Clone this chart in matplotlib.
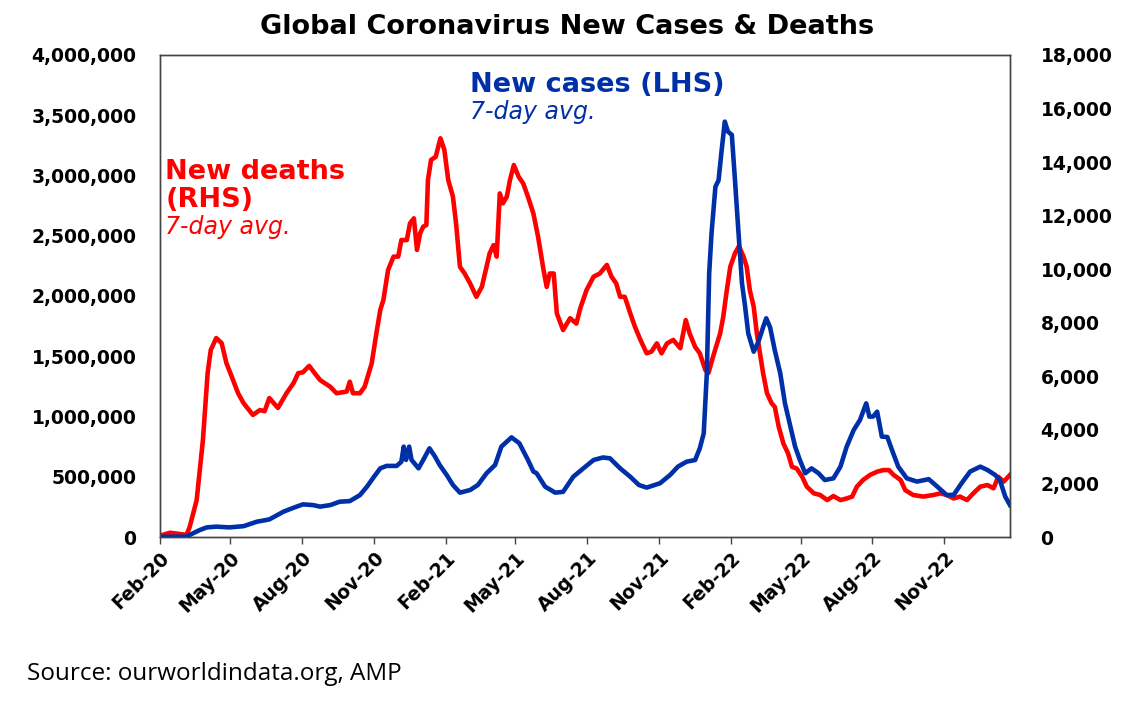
import matplotlib
matplotlib.use("Agg")
import matplotlib.pyplot as plt
import matplotlib.ticker as mticker
import pandas as pd

# 7-day avg new deaths, world (RHS)
death_dates = [
    "2020-02-01", "2020-02-14", "2020-03-06", "2020-03-10", "2020-03-19", "2020-03-27",
    "2020-04-02", "2020-04-06", "2020-04-13", "2020-04-20", "2020-04-26", "2020-05-03",
    "2020-05-11", "2020-05-18", "2020-05-30", "2020-06-08", "2020-06-14", "2020-06-20",
    "2020-07-01", "2020-07-12", "2020-07-21", "2020-07-27", "2020-08-02", "2020-08-10",
    "2020-08-17", "2020-08-24", "2020-09-06", "2020-09-14", "2020-09-27", "2020-10-01",
    "2020-10-05", "2020-10-14", "2020-10-20", "2020-10-29", "2020-11-04", "2020-11-09",
    "2020-11-13", "2020-11-19", "2020-11-26", "2020-12-02", "2020-12-06", "2020-12-13",
    "2020-12-17", "2020-12-22", "2020-12-26", "2020-12-30", "2021-01-03", "2021-01-07",
    "2021-01-09", "2021-01-13", "2021-01-19", "2021-01-25", "2021-01-30", "2021-02-04",
    "2021-02-10", "2021-02-14", "2021-02-19", "2021-02-25", "2021-03-04", "2021-03-12",
    "2021-03-19", "2021-03-25", "2021-03-29", "2021-04-03", "2021-04-07", "2021-04-11",
    "2021-04-15", "2021-04-20", "2021-04-24", "2021-04-29", "2021-05-05", "2021-05-11",
    "2021-05-17", "2021-05-24", "2021-05-30", "2021-06-06", "2021-06-10", "2021-06-14",
    "2021-06-19", "2021-06-23", "2021-07-01", "2021-07-10", "2021-07-18", "2021-07-23",
    "2021-07-31", "2021-08-09", "2021-08-17", "2021-08-26", "2021-09-01", "2021-09-07",
    "2021-09-12", "2021-09-18", "2021-09-25", "2021-10-01", "2021-10-08", "2021-10-16",
    "2021-10-22", "2021-10-29", "2021-11-04", "2021-11-11", "2021-11-19", "2021-11-28",
    "2021-12-05", "2021-12-10", "2021-12-17", "2021-12-23", "2021-12-30", "2022-01-03",
    "2022-01-09", "2022-01-18", "2022-01-22", "2022-01-26", "2022-01-31", "2022-02-06",
    "2022-02-11", "2022-02-17", "2022-02-21", "2022-02-25", "2022-03-02", "2022-03-06",
    "2022-03-10", "2022-03-14", "2022-03-19", "2022-03-25", "2022-03-29", "2022-04-03",
    "2022-04-09", "2022-04-15", "2022-04-20", "2022-04-26", "2022-05-03", "2022-05-09",
    "2022-05-18", "2022-05-26", "2022-06-04", "2022-06-12", "2022-06-21", "2022-06-29",
    "2022-07-06", "2022-07-12", "2022-07-20", "2022-07-29", "2022-08-07", "2022-08-15",
    "2022-08-22", "2022-08-28", "2022-09-06", "2022-09-12", "2022-09-22", "2022-10-05",
    "2022-10-18", "2022-10-27", "2022-11-04", "2022-11-13", "2022-11-21", "2022-11-30",
    "2022-12-08", "2022-12-17", "2022-12-26", "2023-01-03", "2023-01-09", "2023-01-16",
    "2023-01-24",
]
deaths = [
    50, 160, 80, 370, 1380, 3620,
    6120, 6980, 7430, 7240, 6500, 5980,
    5370, 5000, 4560, 4740, 4700, 5190,
    4820, 5370, 5750, 6120, 6150, 6390,
    6120, 5860, 5610, 5370, 5430, 5800,
    5370, 5370, 5610, 6480, 7600, 8480,
    8850, 9970, 10470, 10470, 11090, 11090,
    11710, 11900, 10720, 11340, 11590, 11650,
    13330, 14080, 14200, 14890, 14460, 13330,
    12710, 11710, 10090, 9840, 9470, 8970,
    9340, 10090, 10590, 10900, 10470, 12830,
    12460, 12710, 13330, 13890, 13460, 13200,
    12710, 12080, 11210, 9970, 9340, 9840,
    9840, 8350, 7730, 8170, 7970, 8540,
    9220, 9720, 9840, 10160, 9720, 9470,
    8970, 8970, 8350, 7850, 7360, 6860,
    6920, 7230, 6860, 7230, 7360, 7050,
    8100, 7600, 7100, 6860, 6240, 6120,
    6740, 7600, 8220, 9100, 10090, 10590,
    10860, 10470, 10090, 9220, 8600, 7600,
    6860, 6120, 5370, 4990, 4860, 4120,
    3490, 3120, 2620, 2560, 2250, 1880,
    1630, 1570, 1380, 1530, 1380, 1440,
    1510, 1880, 2130, 2320, 2440, 2500,
    2500, 2320, 2130, 1750, 1570, 1510,
    1570, 1630, 1570, 1440, 1510, 1380,
    1630, 1880, 1940, 1820, 2250, 2070,
    2320,
]

# 7-day avg new cases, world (LHS)
case_dates = [
    "2020-02-01", "2020-03-06", "2020-03-14", "2020-03-23", "2020-04-01", "2020-04-13",
    "2020-04-30", "2020-05-18", "2020-06-04", "2020-06-20", "2020-07-08", "2020-07-21",
    "2020-08-02", "2020-08-15", "2020-08-24", "2020-09-06", "2020-09-18", "2020-10-01",
    "2020-10-14", "2020-10-23", "2020-11-01", "2020-11-09", "2020-11-17", "2020-11-30",
    "2020-12-06", "2020-12-09", "2020-12-12", "2020-12-16", "2020-12-19", "2020-12-28",
    "2021-01-03", "2021-01-11", "2021-01-18", "2021-01-24", "2021-02-02", "2021-02-10",
    "2021-02-19", "2021-03-04", "2021-03-14", "2021-03-25", "2021-04-05", "2021-04-13",
    "2021-04-26", "2021-05-06", "2021-05-17", "2021-05-24", "2021-05-28", "2021-06-08",
    "2021-06-21", "2021-07-01", "2021-07-14", "2021-07-27", "2021-08-09", "2021-08-21",
    "2021-08-30", "2021-09-12", "2021-09-25", "2021-10-06", "2021-10-16", "2021-11-02",
    "2021-11-15", "2021-11-25", "2021-12-06", "2021-12-17", "2021-12-23", "2021-12-28",
    "2022-01-01", "2022-01-04", "2022-01-07", "2022-01-12", "2022-01-16", "2022-01-20",
    "2022-01-24", "2022-01-28", "2022-02-02", "2022-02-06", "2022-02-10", "2022-02-15",
    "2022-02-19", "2022-02-23", "2022-03-02", "2022-03-08", "2022-03-14", "2022-03-18",
    "2022-03-23", "2022-03-29", "2022-04-05", "2022-04-11", "2022-04-18", "2022-04-24",
    "2022-04-30", "2022-05-07", "2022-05-15", "2022-05-24", "2022-06-01", "2022-06-12",
    "2022-06-21", "2022-06-29", "2022-07-08", "2022-07-16", "2022-07-24", "2022-07-28",
    "2022-08-02", "2022-08-07", "2022-08-13", "2022-08-20", "2022-08-26", "2022-09-03",
    "2022-09-14", "2022-09-27", "2022-10-12", "2022-10-23", "2022-11-04", "2022-11-13",
    "2022-11-23", "2022-12-04", "2022-12-17", "2022-12-26", "2023-01-05", "2023-01-11",
    "2023-01-18", "2023-01-24",
]
cases = [
    2000, 3000, 30000, 58000, 80000, 86000,
    80000, 90000, 127000, 146000, 210000, 243000,
    271000, 265000, 252000, 265000, 293000, 298000,
    348000, 418000, 500000, 570000, 590000, 590000,
    625000, 750000, 640000, 750000, 640000, 570000,
    640000, 736000, 668000, 598000, 515000, 432000,
    368000, 390000, 432000, 529000, 598000, 750000,
    827000, 778000, 640000, 543000, 530000, 418000,
    368000, 375000, 500000, 570000, 639000, 660000,
    653000, 570000, 500000, 432000, 410000, 446000,
    515000, 584000, 625000, 639000, 736000, 860000,
    1358000, 2188000, 2520000, 2907000, 2960000, 3212000,
    3447000, 3364000, 3337000, 2963000, 2575000, 2105000,
    1911000, 1690000, 1538000, 1620000, 1740000, 1815000,
    1740000, 1549000, 1358000, 1109000, 915000, 750000,
    640000, 529000, 570000, 529000, 473000, 487000,
    584000, 750000, 888000, 971000, 1109000, 999000,
    1000000, 1040000, 833000, 830000, 722000, 584000,
    487000, 460000, 480000, 418000, 348000, 350000,
    446000, 543000, 584000, 557000, 515000, 473000,
    335000, 265000,
]

tick_labels = ["Feb-20", "May-20", "Aug-20", "Nov-20", "Feb-21", "May-21",
               "Aug-21", "Nov-21", "Feb-22", "May-22", "Aug-22", "Nov-22"]

BLUE = "#0030A8"
RED = "#FF0000"

plt.rcParams["font.family"] = ["DejaVu Sans"]

fig = plt.figure(figsize=(11.32, 7.03), dpi=100)
ax = fig.add_axes([0.1413, 0.2361, 0.7509, 0.6857])
ax2 = ax.twinx()

d_dates = pd.to_datetime(death_dates)
c_dates = pd.to_datetime(case_dates)

ax2.plot(d_dates, deaths, color=RED, lw=3.3, solid_joinstyle="round")
ax.plot(c_dates, cases, color=BLUE, lw=3.3, solid_joinstyle="round")
# cases line drawn over deaths
ax.set_zorder(ax2.get_zorder() + 1)
ax.patch.set_visible(False)

ax.set_xlim(pd.Timestamp("2020-02-01"), pd.Timestamp("2023-01-24"))
ax.set_ylim(0, 4000000)
ax2.set_ylim(0, 18000)
ax.yaxis.set_major_locator(mticker.MultipleLocator(500000))
ax2.yaxis.set_major_locator(mticker.MultipleLocator(2000))
fmt = mticker.FuncFormatter(lambda v, p: f"{int(v):,}")
ax.yaxis.set_major_formatter(fmt)
ax2.yaxis.set_major_formatter(fmt)

ticks = pd.date_range("2020-02-01", "2022-11-01", freq="3MS")
ax.set_xticks(ticks)
ax.set_xticklabels(tick_labels, rotation=45, ha="right", rotation_mode="anchor",
                   fontsize=13.5, fontweight="bold")

ax.tick_params(axis="y", length=0, labelsize=13.5, pad=17)
ax2.tick_params(axis="y", length=0, labelsize=13.5, pad=22)
for a in (ax, ax2):
    for lab in a.get_yticklabels():
        lab.set_fontweight("bold")
    for s in a.spines.values():
        s.set_color("#444444")
        s.set_linewidth(1.0)
ax.tick_params(axis="x", length=5, width=1, color="#444444", pad=3)

fig.text(0.501, 0.961, "Global Coronavirus New Cases & Deaths", ha="center", va="center",
         fontsize=19.5, fontweight="bold")

fig.text(0.415, 0.879, "New cases (LHS)", color=BLUE, fontsize=19.5, fontweight="bold",
         ha="left", va="center")
fig.text(0.415, 0.840, "7-day avg.", color=BLUE, fontsize=17, fontstyle="italic",
         ha="left", va="center")

fig.text(0.146, 0.755, "New deaths", color=RED, fontsize=19.5, fontweight="bold",
         ha="left", va="center")
fig.text(0.146, 0.716, "(RHS)", color=RED, fontsize=19.5, fontweight="bold",
         ha="left", va="center")
fig.text(0.146, 0.677, "7-day avg.", color=RED, fontsize=17, fontstyle="italic",
         ha="left", va="center")

fig.text(0.024, 0.041, "Source: ourworldindata.org, AMP", fontsize=17.5,
         family=["Open Sans", "DejaVu Sans"], ha="left", va="center")

fig.savefig("out.png", dpi=100)
